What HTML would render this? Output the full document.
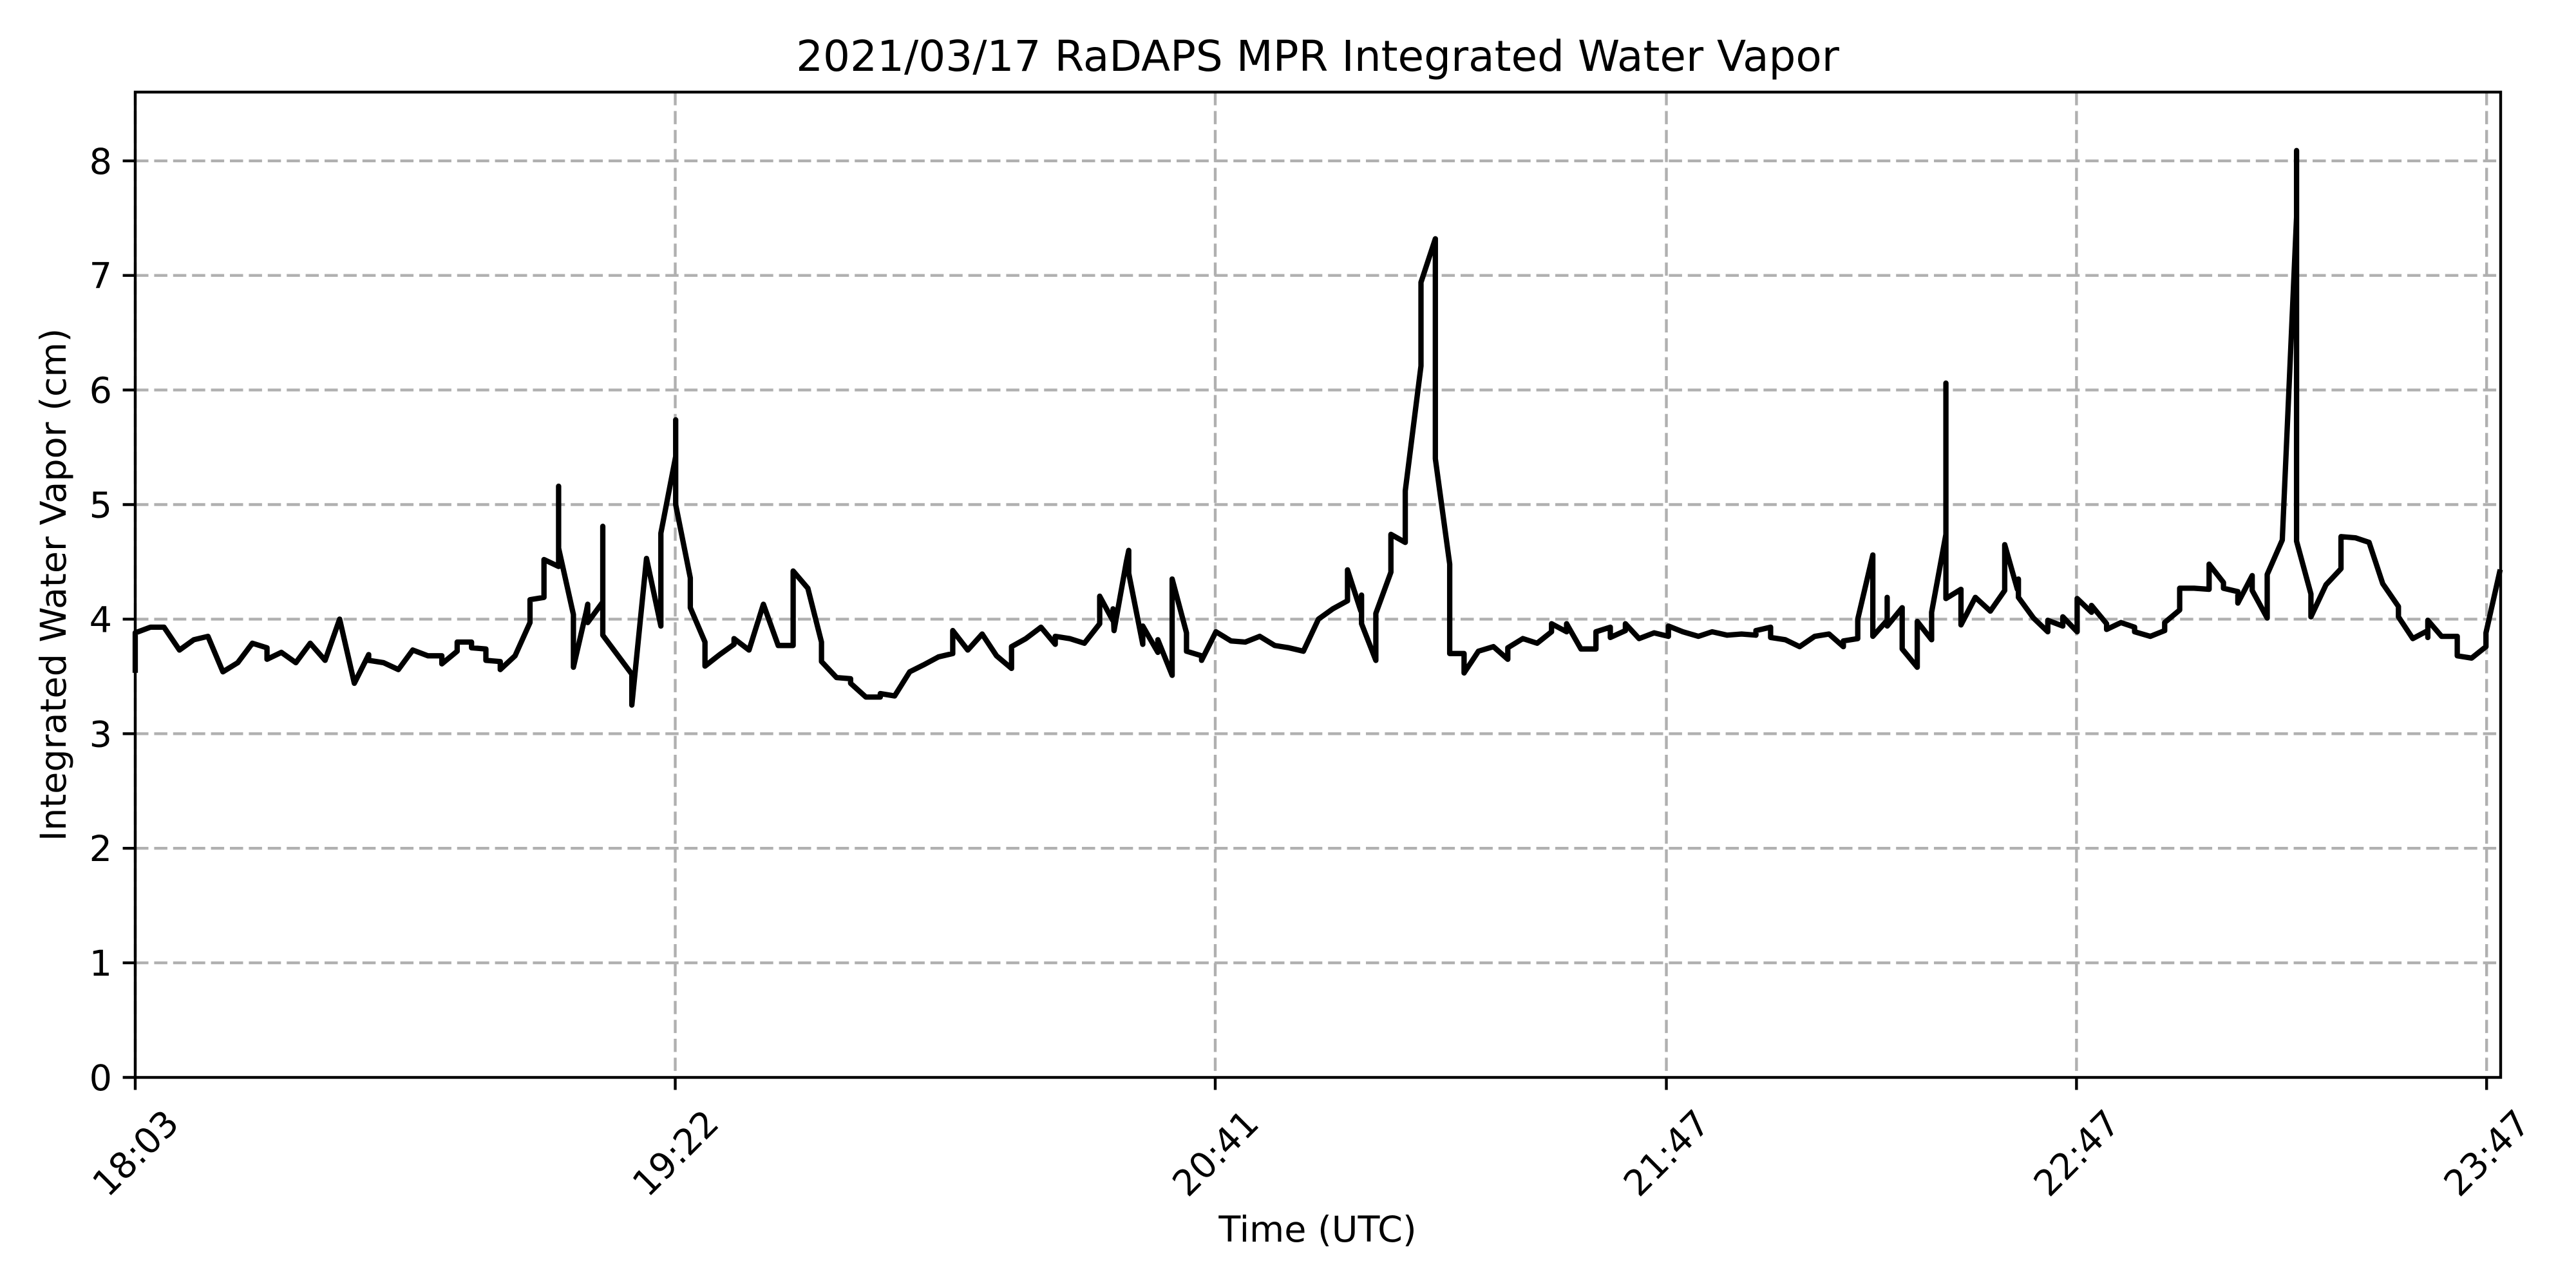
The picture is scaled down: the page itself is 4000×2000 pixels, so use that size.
<!DOCTYPE html>
<html><head><meta charset="utf-8">
<style>
html,body{margin:0;padding:0;background:#fff;}
svg{display:block;font-family:"DejaVu Sans","Liberation Sans",sans-serif;}
</style></head>
<body>
<svg id="chart" width="4000" height="2000" viewBox="0 0 4000 2000" xmlns="http://www.w3.org/2000/svg">
<rect x="0" y="0" width="4000" height="2000" fill="#fff"/>
<g id="grid"></g>
<g id="series"></g>
<g id="axes"></g>
<text x="2046" y="110" font-size="66" text-anchor="middle">2021/03/17 RaDAPS MPR Integrated Water Vapor</text>
<text x="2046" y="1928" font-size="55.6" text-anchor="middle">Time (UTC)</text>
<text x="102" y="908" font-size="55.6" text-anchor="middle" transform="rotate(-90 102 908)">Integrated Water Vapor (cm)</text>
</svg>
<script>
// minutes since 18:03 UTC
const minutes = [0,0,2.23,4.21,6.47,8.57,10.64,12.82,15.0,17.14,19.28,19.28,21.38,23.5,25.6,27.77,29.9,32.05,34.15,34.15,36.33,38.5,40.6,42.8,44.86,44.86,47.1,47.1,49.2,49.2,51.3,51.3,53.4,53.4,55.57,57.75,57.75,59.8,59.8,61.94,61.94,61.94,64.1,64.1,66.0,66.2,66.2,68.4,68.4,68.4,72.65,72.65,74.8,76.9,76.9,79.07,79.07,79.07,81.2,81.2,83.35,83.35,85.5,87.6,87.6,89.8,91.9,94.06,96.25,96.25,98.4,100.4,100.4,102.6,104.65,104.65,106.9,109.0,109.0,111.1,113.3,115.3,117.5,119.6,119.6,121.8,123.9,126.0,128.2,128.2,130.3,132.5,134.6,134.6,136.7,138.85,141.1,141.1,143.0,143.05,143.2,145.0,145.35,145.35,147.4,147.4,149.6,149.6,151.7,151.7,153.8,153.8,156.0,156.0,158.1,160.3,162.4,164.5,166.7,168.8,170.9,173.1,175.2,177.35,177.35,179.3,179.4,179.4,181.5,181.5,183.7,183.7,185.8,185.8,188.1,188.1,188.1,190.2,190.2,192.3,192.3,194.4,194.4,196.5,198.7,200.8,200.8,203.0,205.1,207.2,207.2,209.4,209.4,211.5,213.7,213.7,215.8,215.8,218.0,218.0,220.0,222.2,224.3,224.3,226.4,228.7,230.7,232.9,235.0,237.1,237.1,239.25,239.25,241.4,243.5,245.7,247.8,249.9,249.9,252.0,252.0,254.2,254.2,256.3,256.3,256.3,258.5,258.5,260.7,260.7,262.8,262.8,264.9,264.9,264.9,267.1,267.1,269.2,271.4,273.5,273.5,275.35,275.5,275.5,277.7,279.8,279.8,282.0,282.0,284.1,284.1,286.2,286.2,288.4,288.4,290.5,292.5,292.5,294.8,296.9,296.9,299.1,299.1,301.2,303.4,303.4,305.5,305.5,307.6,307.6,309.7,309.7,311.9,311.9,314.1,316.2,316.2,316.2,318.3,318.3,320.5,322.7,322.7,324.8,326.8,328.8,331.1,331.1,333.2,335.4,335.4,335.4,337.4,339.7,339.7,341.8,343.9,343.9,345.9];
const iwv = [3.555,3.88,3.93,3.93,3.73,3.82,3.85,3.54,3.62,3.79,3.75,3.65,3.71,3.62,3.79,3.64,4.0,3.44,3.69,3.64,3.62,3.56,3.73,3.68,3.68,3.61,3.72,3.80,3.80,3.75,3.74,3.64,3.63,3.56,3.68,3.97,4.17,4.19,4.52,4.46,5.16,4.62,4.04,3.58,4.07,4.13,3.97,4.15,4.81,3.86,3.52,3.25,4.53,3.94,4.75,5.42,5.74,5.0,4.36,4.10,3.80,3.59,3.69,3.78,3.83,3.73,4.13,3.77,3.77,4.42,4.27,3.80,3.63,3.49,3.48,3.44,3.32,3.32,3.35,3.33,3.54,3.60,3.67,3.70,3.90,3.73,3.87,3.68,3.57,3.76,3.83,3.93,3.78,3.85,3.83,3.79,3.96,4.20,3.99,4.09,3.90,4.50,4.60,4.40,3.78,3.94,3.71,3.82,3.51,4.35,3.88,3.72,3.68,3.64,3.89,3.81,3.80,3.85,3.77,3.75,3.72,4.00,4.09,4.16,4.43,4.07,4.21,3.96,3.64,4.05,4.41,4.74,4.67,5.12,6.21,6.77,6.94,7.32,5.40,4.48,3.70,3.70,3.53,3.72,3.76,3.65,3.75,3.83,3.79,3.89,3.96,3.89,3.96,3.74,3.74,3.89,3.93,3.84,3.90,3.96,3.83,3.88,3.85,3.94,3.89,3.85,3.89,3.86,3.87,3.86,3.90,3.93,3.84,3.82,3.76,3.85,3.87,3.76,3.81,3.83,4.0,4.56,3.85,3.99,4.19,3.94,4.10,3.74,3.58,3.98,3.82,4.06,4.74,6.06,4.18,4.26,3.95,4.19,4.07,4.25,4.65,4.26,4.35,4.19,4.01,3.89,3.99,3.94,4.02,3.89,4.18,4.06,4.12,3.96,3.91,3.97,3.93,3.89,3.85,3.90,3.97,4.08,4.27,4.27,4.26,4.48,4.32,4.27,4.24,4.14,4.38,4.25,4.01,4.39,4.69,7.51,8.09,4.68,4.22,4.02,4.30,4.44,4.72,4.71,4.67,4.31,4.11,4.02,3.83,3.90,3.84,3.99,3.85,3.85,3.68,3.66,3.76,3.88,4.41];
const yTicks = [0,1,2,3,4,5,6,7,8];
const xTickMinutes = [0,79,158,224,284,344];
const xTickLabels = ["18:03","19:22","20:41","21:47","22:47","23:47"];

const L=210, R=3883, T=143, B=1673;
const PXMIN=10.614, PXUNIT=177.9;
function xs(m){return L + m*PXMIN;}
function ys(v){return B - v*PXUNIT;}
const NS="http://www.w3.org/2000/svg";
function mk(tag, attrs, parent){const e=document.createElementNS(NS,tag);for(const k in attrs)e.setAttribute(k,attrs[k]);parent.appendChild(e);return e;}
const grid=document.getElementById('grid'), axes=document.getElementById('axes'), series=document.getElementById('series');

yTicks.forEach(function(t){
  const y=ys(t);
  if(t>0){
    const g=mk('line',{x1:L,x2:R,y1:y,y2:y,stroke:'#b0b0b0','stroke-width':4.4,'stroke-dasharray':'20.5 8.9'},grid);
    
    
  }
  const tk=mk('line',{x1:L-19.4,x2:L,y1:y,y2:y,stroke:'#000','stroke-width':4.4},axes);
  
  
  const tx=mk('text',{x:L-36,y:y+20,'font-size':55.6,'text-anchor':'end'},axes);
  tx.textContent=String(t);
  
  
});

xTickMinutes.forEach(function(m,i){
  const x=xs(m);
  const g=mk('line',{x1:x,x2:x,y1:T,y2:B,stroke:'#b0b0b0','stroke-width':4.4,'stroke-dasharray':'20.5 8.9'},grid);
  
  
  const tk=mk('line',{x1:x,x2:x,y1:B,y2:B+19.4,stroke:'#000','stroke-width':4.4},axes);
  
  
  const cy=1790;
  const tx=mk('text',{x:x,y:cy+20,'font-size':55.6,'text-anchor':'middle',transform:'rotate(-45 '+x+' '+cy+')'},axes);
  tx.textContent=xTickLabels[i];
  
  
});

const pts=minutes.map(function(m,i){return xs(m).toFixed(1)+','+ys(iwv[i]).toFixed(1);}).join(' ');
const line=mk('polyline',{points:pts,fill:'none',stroke:'#000','stroke-width':8.3,'stroke-linejoin':'round','stroke-linecap':'square'},series);



const frame=mk('rect',{x:L,y:T,width:R-L,height:B-T,fill:'none',stroke:'#000','stroke-width':4.4},axes);


</script>
</body></html>
